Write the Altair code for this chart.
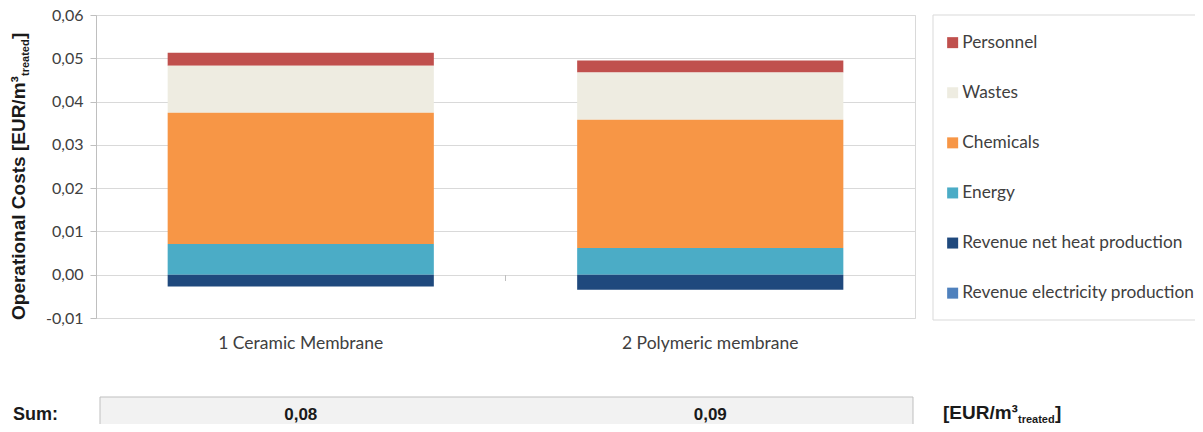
import altair as alt
import pandas as pd

categories = ["1 Ceramic Membrane", "2 Polymeric membrane"]
components = ["Personnel", "Wastes", "Chemicals", "Energy",
              "Revenue net heat production", "Revenue electricity production"]
colors = ["#C0504D", "#EEECE1", "#F79646", "#4BACC6", "#1F497D", "#4F81BD"]
ceramic = [0.0030, 0.0109, 0.0303, 0.0071, -0.0027, 0.0]
polymeric = [0.0028, 0.0109, 0.0296, 0.0062, -0.0035, 0.0]
stack_order = [4, 3, 2, 1, 1, 0]
sum_labels = ["0,08", "0,09"]
y_ticks = [-0.01, 0.0, 0.01, 0.02, 0.03, 0.04, 0.05, 0.06]

rows = []
for cat, vals in zip(categories, [ceramic, polymeric]):
    for comp, v, o in zip(components, vals, stack_order):
        rows.append({"Category": cat, "Component": comp, "Value": v, "Ord": o})
df = pd.DataFrame(rows)
sums = pd.DataFrame({"Category": categories, "Sum": sum_labels})
one = pd.DataFrame({"a": [0]})

W, H = 819, 303
TICK_FONT = "Lato"
BOLD_FONT = "Liberation Sans"

xscale = alt.Scale(domain=categories, paddingInner=0.35, paddingOuter=0.175)

bars = alt.Chart(df).mark_bar().encode(
    x=alt.X("Category:N", sort=categories, scale=xscale,
            axis=alt.Axis(title=None, labelAngle=0, labelFont=TICK_FONT, labelFontSize=17.5,
                          labelColor="#404040", labelPadding=16, ticks=False, domain=False)),
    y=alt.Y("Value:Q", stack="zero",
            scale=alt.Scale(domain=[-0.01, 0.06], nice=False, zero=False),
            axis=alt.Axis(values=y_ticks, title=None,
                          labelExpr="replace(replace(format(datum.value, '.2f'), '.', ','), '\u2212', '-')",
                          grid=True, gridColor="#d9d9d9", domainColor="#bfbfbf",
                          tickColor="#bfbfbf", tickSize=6, labelPadding=7,
                          labelFont=TICK_FONT, labelFontSize=16, labelColor="#404040")),
    color=alt.Color("Component:N", scale=alt.Scale(domain=components, range=colors),
                    legend=alt.Legend(orient="none", legendX=848, legendY=19, title=None,
                                      direction="vertical", symbolType="square",
                                      symbolSize=121, symbolStrokeWidth=0,
                                      labelFont=TICK_FONT, labelFontSize=17.3, labelLimit=0,
                                      labelColor="#404040", rowPadding=32.1, padding=0,
                                      labelOffset=1)),
    order=alt.Order("Ord:Q"),
)

mid_tick = alt.Chart(one).mark_rule(color="#bfbfbf", strokeWidth=1).encode(
    x=alt.value(409.5), y=alt.value(260), y2=alt.value(266))

legend_box = alt.Chart(one).mark_rect(fill="white", fillOpacity=0, stroke="#d9d9d9", strokeWidth=1).encode(
    x=alt.value(837), x2=alt.value(1106), y=alt.value(0), y2=alt.value(305))

sum_box = alt.Chart(one).mark_rect(fill="#f2f2f2", stroke="#bfbfbf", strokeWidth=1).encode(
    x=alt.value(4), x2=alt.value(817), y=alt.value(382), y2=alt.value(440))

sum_text = alt.Chart(sums).mark_text(font=BOLD_FONT, fontWeight="bold", fontSize=17,
                                     color="#1a1a1a", baseline="middle").encode(
    x=alt.X("Category:N", sort=categories, scale=xscale),
    y=alt.value(400), text="Sum:N")

sum_label = alt.Chart(one).mark_text(text="Sum:", font=BOLD_FONT, fontWeight="bold", fontSize=18,
                                     color="#1a1a1a", align="left", baseline="middle").encode(
    x=alt.value(-83), y=alt.value(400))

unit_main = alt.Chart(one).mark_text(text="[EUR/m\u00b3", font=BOLD_FONT, fontWeight="bold", fontSize=19,
                                     color="#1a1a1a", align="left", baseline="alphabetic").encode(
    x=alt.value(847), y=alt.value(404))
unit_sub = alt.Chart(one).mark_text(text="treated", font=BOLD_FONT, fontWeight="bold", fontSize=11,
                                    color="#1a1a1a", align="left", baseline="alphabetic").encode(
    x=alt.value(922), y=alt.value(407.5))
unit_end = alt.Chart(one).mark_text(text="]", font=BOLD_FONT, fontWeight="bold", fontSize=19,
                                    color="#1a1a1a", align="left", baseline="alphabetic").encode(
    x=alt.value(959), y=alt.value(404))

ytitle_main = alt.Chart(one).mark_text(text="Operational Costs [EUR/m\u00b3", font=BOLD_FONT,
                                       fontWeight="bold", fontSize=19, color="#1a1a1a", angle=270,
                                       align="left", baseline="alphabetic").encode(
    x=alt.value(-71), y=alt.value(305))
ytitle_sub = alt.Chart(one).mark_text(text="treated", font=BOLD_FONT, fontWeight="bold", fontSize=11,
                                      color="#1a1a1a", angle=270, align="left",
                                      baseline="alphabetic").encode(
    x=alt.value(-67), y=alt.value(61))
ytitle_end = alt.Chart(one).mark_text(text="]", font=BOLD_FONT, fontWeight="bold", fontSize=19,
                                      color="#1a1a1a", angle=270, align="left",
                                      baseline="alphabetic").encode(
    x=alt.value(-71), y=alt.value(24))

chart = alt.layer(
    legend_box, sum_box, bars, mid_tick, sum_text, sum_label, unit_main, unit_sub, unit_end,
    ytitle_main, ytitle_sub, ytitle_end
).properties(
    width=W, height=H,
    autosize=alt.AutoSizeParams(type="none"),
    padding={"left": 88, "top": 7, "right": 280, "bottom": 106},
).configure_view(stroke="#d9d9d9", strokeWidth=1)

chart.save("out.html", embed_options={"renderer": "svg", "actions": False})
